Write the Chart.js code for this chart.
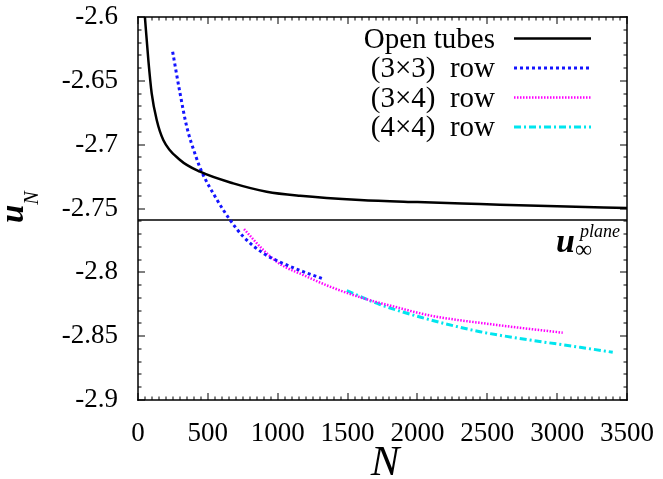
<!DOCTYPE html>
<html>
<head>
<meta charset="utf-8">
<script src="https://cdn.jsdelivr.net/npm/chart.js@4"></script>
<style>
  html, body { margin: 0; padding: 0; background: #fff; }
  #wrap { width: 663px; height: 479px; }
</style>
</head>
<body>
<div id="wrap"><canvas id="c" width="663" height="479"></canvas></div>
<script>
// values
const openN = [48, 74, 98, 134, 181, 301, 444, 682, 921, 1160, 1589, 2000, 2448, 3000, 3500];
const openU = [-2.598, -2.6337, -2.6598, -2.6807, -2.6963, -2.712, -2.7212, -2.7303, -2.7368, -2.7400, -2.7433, -2.7450, -2.7465, -2.7483, -2.7497];

const row33N = [248, 301, 349, 415, 456, 558, 659, 754, 897, 1016, 1183, 1326];
const row33U = [-2.6272, -2.6598, -2.686, -2.7094, -2.7212, -2.7418, -2.759, -2.7721, -2.7851, -2.7919, -2.7995, -2.8052];

const row34N = [759, 897, 1016, 1183, 1374, 1613, 1852, 2090, 2567, 3040];
const row34U = [-2.7661, -2.7825, -2.7935, -2.8021, -2.8112, -2.8203, -2.8274, -2.8338, -2.8412, -2.8473];

const row44N = [1494, 1732, 2018, 2448, 2806, 3164, 3398];
const row44U = [-2.8144, -2.8252, -2.835, -2.8465, -2.853, -2.8587, -2.8626];

const planeN = [0, 3500];
const planeU = [-2.759, -2.759];

const xTicks = [0, 500, 1000, 1500, 2000, 2500, 3000, 3500];
const yTicks = [-2.6, -2.65, -2.7, -2.75, -2.8, -2.85, -2.9];
const legendLabels = ['Open tubes', '(3×3)  row', '(3×4)  row', '(4×4)  row'];

const serif = '"Liberation Serif", "DejaVu Serif", serif';

const styles = [
  { color: '#000000', width: 2.5, dash: [] },
  { color: '#1414ff', width: 3, dash: [3, 3] },
  { color: '#ff00ff', width: 2.5, dash: [1.5, 1.5] },
  { color: '#00e5ee', width: 3, dash: [7, 3, 2, 3] },
];

function points(xs, ys) {
  return xs.map((x, i) => ({ x, y: ys[i] }));
}

const series = [
  points(openN, openU),
  points(row33N, row33U),
  points(row34N, row34U),
  points(row44N, row44U),
];

const datasets = series.map((data, i) => ({
  label: legendLabels[i],
  data,
  borderColor: styles[i].color,
  borderWidth: styles[i].width,
  borderDash: styles[i].dash,
  pointRadius: 0,
  fill: false,
  cubicInterpolationMode: 'monotone',
}));

datasets.push({
  label: 'plane',
  data: points(planeN, planeU),
  borderColor: '#000',
  borderWidth: 1.6,
  pointRadius: 0,
  fill: false,
});

// frame, inward ticks, legend and labels
const decor = {
  id: 'decor',
  afterDraw(chart) {
    const ctx = chart.ctx;
    const x = chart.scales.x, y = chart.scales.y;
    const L = x.left, R = x.right, T = y.top, B = y.bottom;
    ctx.save();
    ctx.setLineDash([]);
    ctx.fillStyle = '#000';
    // frame
    ctx.fillRect(L - 0.75, T - 0.75, R - L + 1.5, 1.5);
    ctx.fillRect(L - 0.75, B - 0.75, R - L + 1.5, 1.5);
    ctx.fillRect(L - 0.75, T - 0.75, 1.5, B - T + 1.5);
    ctx.fillRect(R - 0.75, T - 0.75, 1.5, B - T + 1.5);

    // ticks
    for (let v = 0; v <= 3500; v += 50) {
      const px = Math.round(x.getPixelForValue(v));
      const len = v % 500 === 0 ? 7 : 3.5;
      ctx.fillRect(px - 0.5, B - len, 1, len);
      ctx.fillRect(px - 0.5, T, 1, len);
    }
    for (let k = 0; k <= 30; k++) {
      const py = Math.round(y.getPixelForValue(-2.9 + k * 0.01));
      const len = k % 5 === 0 ? 7 : 3.5;
      ctx.fillRect(L, py - 0.5, len, 1);
      ctx.fillRect(R - len, py - 0.5, len, 1);
    }

    // legend
    const rowY = [38.5, 68, 97.5, 127];
    ctx.font = '29px ' + serif;
    ctx.textAlign = 'right';
    ctx.textBaseline = 'alphabetic';
    legendLabels.forEach((t, i) => {
      ctx.fillStyle = '#000';
      ctx.fillText(t, 495, rowY[i] + 9);
      ctx.strokeStyle = styles[i].color;
      ctx.lineWidth = styles[i].width;
      ctx.setLineDash(styles[i].dash);
      ctx.beginPath();
      ctx.moveTo(514, rowY[i]);
      ctx.lineTo(591, rowY[i]);
      ctx.stroke();
    });
    ctx.setLineDash([]);

    // u_inf^plane label
    ctx.textAlign = 'left';
    ctx.fillStyle = '#000';
    ctx.font = 'bold italic 34px ' + serif;
    ctx.fillText('u', 556, 252);
    ctx.font = '24px ' + serif;
    ctx.fillText('∞', 575, 257);
    ctx.font = 'italic 18px ' + serif;
    ctx.fillText('plane', 580, 237);

    // axis titles
    ctx.font = 'italic 43px ' + serif;
    ctx.textAlign = 'center';
    ctx.fillText('N', 385, 475);

    ctx.save();
    ctx.translate(23, 223);
    ctx.rotate(-Math.PI / 2);
    ctx.textAlign = 'left';
    ctx.font = 'bold italic 33px ' + serif;
    ctx.fillText('u', 0, 0);
    const w = ctx.measureText('u').width;
    ctx.font = 'italic 20px ' + serif;
    ctx.fillText('N', w, 15);
    ctx.restore();

    ctx.restore();
  }
};

new Chart(document.getElementById('c'), {
  type: 'line',
  data: { datasets },
  options: {
    responsive: false,
    animation: false,
    devicePixelRatio: 1,
    layout: { padding: { top: 17, right: 36, left: 0, bottom: 0 } },
    plugins: { legend: { display: false }, tooltip: { enabled: false } },
    scales: {
      x: {
        type: 'linear',
        min: 0,
        max: 3500,
        afterBuildTicks: s => { s.ticks = xTicks.map(v => ({ value: v })); },
        afterFit: s => { s.height = 79; s.paddingLeft = 0; s.paddingRight = 0; },
        ticks: {
          callback: v => String(v),
          font: { family: serif, size: 27 },
          color: '#000',
          padding: 18,
          maxRotation: 0,
          autoSkip: false,
        },
        grid: { display: false, drawTicks: false },
        border: { display: false },
      },
      y: {
        type: 'linear',
        min: -2.9,
        max: -2.6,
        afterBuildTicks: s => { s.ticks = yTicks.map(v => ({ value: v })); },
        afterFit: s => { s.width = 138; s.paddingTop = 0; s.paddingBottom = 0; },
        ticks: {
          callback: v => String(v),
          font: { family: serif, size: 27 },
          color: '#000',
          padding: 20,
          autoSkip: false,
        },
        grid: { display: false, drawTicks: false },
        border: { display: false },
      },
    },
  },
  plugins: [decor],
});
</script>
</body>
</html>
